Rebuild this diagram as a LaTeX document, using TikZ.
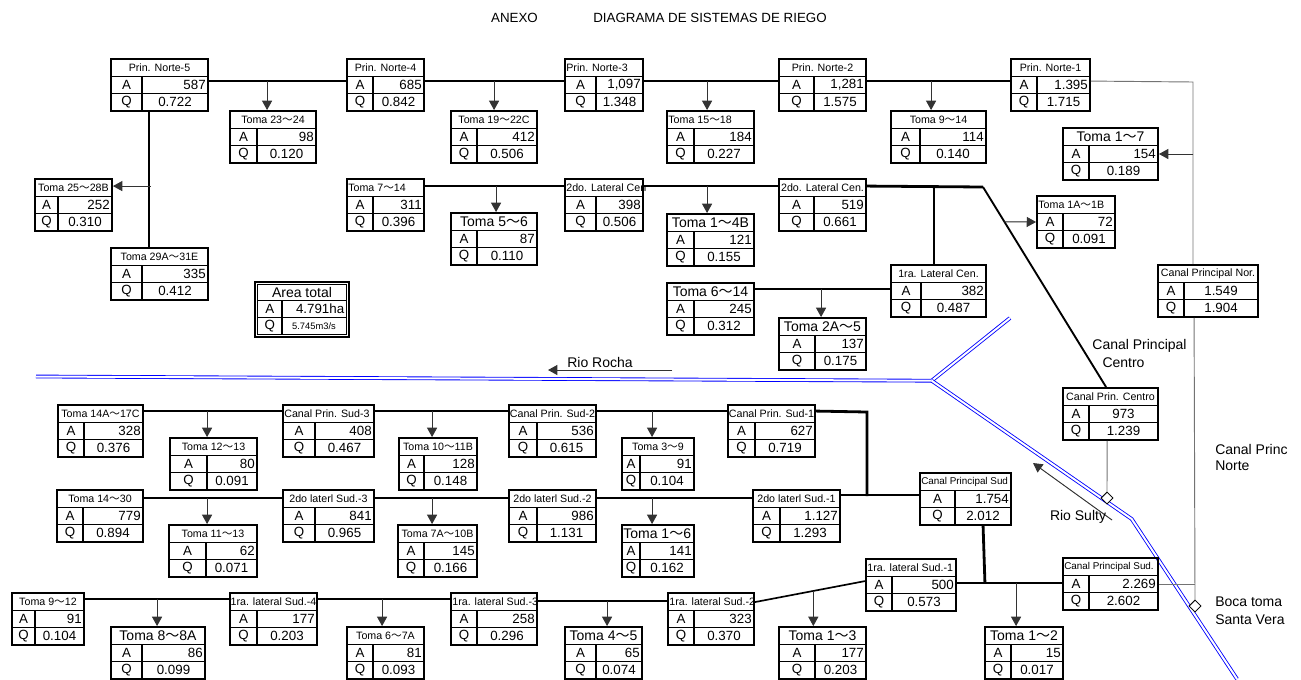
\documentclass[tikz,border=0pt]{standalone}
\usepackage{fontspec}
\setmainfont{Liberation Sans}
\newfontfamily\cjk{Noto Sans CJK JP}
\usetikzlibrary{fit,calc,arrows.meta,shapes.geometric}
\newcommand\wv{{\cjk ～}}
\newcommand\hsm{\fontsize{8}{9}\selectfont}
\newcommand\hxs{\fontsize{7.4}{8}\selectfont}
\newcommand\hbig{\fontsize{10.5}{12}\selectfont}
\newcommand\vfnt{\fontsize{10}{12}\selectfont}
\tikzset{
 box/.style={draw, line width=1.4pt, inner sep=0pt},
 gridln/.style={line width=1pt},
 hd/.style={inner xsep=0.8pt, inner ysep=0pt},
 lbl/.style={font=\vfnt, inner sep=0pt},
 val/.style={font=\vfnt, inner xsep=1.5pt, inner ysep=0pt},
 thk/.style={line width=2.1pt},
 med/.style={line width=1.25pt},
 arr/.style={line width=0.7pt, draw=black!80, fill=black, -{Triangle[length=7pt,width=7.5pt]}},
 gln/.style={line width=0.7pt, draw=black!55},
 river/.style={draw=blue, line width=0.65pt, double=white, double distance=1.5pt},
 dia/.style={diamond, draw, fill=white, line width=0.6pt, inner sep=0pt, minimum size=9pt},
 lab/.style={font=\fontsize{10.5}{12}\selectfont, inner sep=0pt},
}
\pgfkeys{/tb/.cd,
 L/.code={\def\thx{0}\def\tha{west}},
 big/.code={\def\thf{\hbig}},
 sm/.code={\def\thf{\hxs}},
 C/.code={\def\tax{0.5}\def\taa{center}}}
\newcommand\irbox[9][]{%
 \begingroup
 \def\thx{0.5}\def\tha{center}\def\thf{\hsm}\def\tax{1}\def\taa{east}%
 \pgfkeys{/tb/.cd,#1}%
 \node[box, fit={(#3,#4) (#3+#5,#4+52)}] (#2) {};
 \draw[gridln] (#3,#4+17.33) -- ++(#5,0) (#3,#4+34.67) -- ++(#5,0) (#3+#6,#4+17.33) -- (#3+#6,#4+52);
 \node[hd, anchor=\tha, font=\thf] at (#3+\thx*#5,#4+8.67) {#7};
 \node[lbl] at (#3+#6/2,#4+26) {A};
 \node[lbl] at (#3+#6/2,#4+43.33) {Q};
 \node[val, anchor=\taa] at (#3+#6+\tax*#5-\tax*#6,#4+26) {#8};
 \node[val] at (#3+#6/2+#5/2,#4+43.33) {#9};
 \endgroup}
\newcommand\darr[3]{\draw[arr] ($(#1.north west)+(#2,-#3)$) -- ($(#1.north west)+(#2,0)$);}
\begin{document}
\begin{tikzpicture}[x=0.75pt,y=-0.75pt]
\useasboundingbox (0,0) rectangle (1301,679);
\node[font=\vfnt] (ttl1) at (514.5,18) {ANEXO};
\node[font=\vfnt] (ttl2) at (710,18) {DIAGRAMA DE SISTEMAS DE RIEGO};

% rivers
\coordinate (rL) at (36,376.5);
\coordinate (rJ) at (931.7,380.7);
\coordinate (rU) at (1010,318);
\coordinate (rB) at (1131.7,519);
\coordinate (rE) at (1237,679);
\draw[river] (rL) -- (rJ) -- (rU);
\draw[river] (rJ) -- (rB) -- (rE);

% upper boxes
\irbox{pn5}{111}{59}{97}{31}{Prin. Norte-5}{587}{0.722}
\irbox{pn4}{347}{59}{77}{26}{Prin. Norte-4}{685}{0.842}
\irbox[L]{pn3}{565}{59}{78}{31}{Prin. Norte-3}{1,097}{1.348}
\irbox{pn2}{779}{59}{87}{35}{Prin. Norte-2}{1,281}{1.575}
\irbox{pn1}{1011}{59}{79}{26}{Prin. Norte-1}{1.395}{1.715}
\irbox{t2324}{230}{111}{86}{27}{Toma 23\wv24}{98}{0.120}
\irbox{t1922}{451}{111}{86}{26}{Toma 19\wv22C}{412}{0.506}
\irbox[L]{t1518}{667}{111}{87}{27}{Toma 15\wv18}{184}{0.227}
\irbox{t914}{891}{111}{95}{29}{Toma 9\wv14}{114}{0.140}
\irbox[big]{t17}{1063}{128}{95}{26}{Toma 1\wv7}{154}{0.189}
\irbox{t2528}{35}{179}{77}{23}{Toma 25\wv28B}{252}{0.310}
\irbox[L]{t714}{347}{179}{77}{26}{Toma 7\wv14}{311}{0.396}
\irbox[big]{t56}{451}{213}{86}{26}{Toma 5\wv6}{87}{0.110}
\irbox[L]{l2c1}{565}{179}{78}{31}{2do. Lateral Cen}{398}{0.506}
\irbox[big]{t14b}{667}{214}{87}{27}{Toma 1\wv4B}{121}{0.155}
\irbox{l2c2}{779}{179}{87}{35}{2do. Lateral Cen.}{519}{0.661}
\irbox[L]{t1a1b}{1037}{196}{78}{26}{Toma 1A\wv1B}{72}{0.091}
\irbox{t2931}{111}{248}{97}{31}{Toma 29A\wv31E}{335}{0.412}
\irbox[big]{t614}{667}{283}{87}{27}{Toma 6\wv14}{245}{0.312}
\irbox[big]{t2a5}{779}{318}{87}{36}{Toma 2A\wv5}{137}{0.175}
\irbox{l1c}{891}{265}{95}{30}{1ra. Lateral Cen.}{382}{0.487}
\irbox[C]{cpn}{1158}{265}{100}{26}{Canal Principal Nor.}{1.549}{1.904}
\irbox[C]{cpc}{1063}{388}{95}{26}{Canal Prin. Centro}{973}{1.239}

% area total
\node[box, fit={(255,282) (349,337)}] (area) {};
\draw[line width=0.5pt] (257.5,284.5) rectangle (346.5,334.5);
\draw[gridln] (257.5,300.5) -- (346.5,300.5) (257.5,317.5) -- (346.5,317.5) (282,300.5) -- (282,334.5);
\node[font=\hbig, inner sep=0pt] (areah) at (302,292.5) {Area total};
\node[lbl] (areaa) at (269.7,309) {A};
\node[lbl] (areaq) at (269.7,326) {Q};
\node[val,anchor=east] (areav) at (346.5,309) {4.791ha};
\node[font=\fontsize{7}{8}\selectfont, inner sep=0pt] (areaw) at (314,326) {5.745m3/s};

% lower boxes
\irbox{t1417}{58}{405}{85}{26}{Toma 14A\wv17C}{328}{0.376}
\irbox{t1213}{170}{438}{87}{37}{Toma 12\wv13}{80}{0.091}
\irbox[L]{cs3}{283}{405}{91}{32}{Canal Prin. Sud-3}{408}{0.467}
\irbox{t1011}{399}{438}{78}{25}{Toma 10\wv11B}{128}{0.148}
\irbox{cs2}{509}{405}{87}{28}{Canal Prin. Sud-2}{536}{0.615}
\irbox{t39}{622}{438}{72}{18}{Toma 3\wv9}{91}{0.104}
\irbox{cs1}{728}{405}{87}{27}{Canal Prin. Sud-1}{627}{0.719}
\irbox{t1430}{57}{490}{86}{26}{Toma 14\wv30}{779}{0.894}
\irbox{t1113}{169}{525}{88}{37}{Toma 11\wv13}{62}{0.071}
\irbox{s23}{283}{490}{91}{32}{2do laterl Sud.-3}{841}{0.965}
\irbox{t7a10}{398}{525}{79}{26}{Toma 7A\wv10B}{145}{0.166}
\irbox{s22}{509}{490}{87}{28}{2do laterl Sud.-2}{986}{1.131}
\irbox[big,L]{t16}{622}{525}{72}{18}{Toma 1\wv6}{141}{0.162}
\irbox{s21}{753}{490}{87}{27}{2do laterl Sud.-1}{1.127}{1.293}
\irbox[sm,L]{cps1}{920}{473}{91}{35}{Canal Principal Sud}{1.754}{2.012}
\irbox{t912}{12}{593}{72}{23}{Toma 9\wv12}{91}{0.104}
\irbox[big]{t88a}{111}{627}{94}{31}{Toma 8\wv8A}{86}{0.099}
\irbox{s14}{230}{593}{87}{27}{1ra. lateral Sud.-4}{177}{0.203}
\irbox{t67a}{347}{627}{77}{26}{Toma 6\wv7A}{81}{0.093}
\irbox[L]{s13}{451}{593}{86}{26}{1ra. lateral Sud.-3}{258}{0.296}
\irbox[big]{t45}{565}{627}{77}{31}{Toma 4\wv5}{65}{0.074}
\irbox[L]{s12}{668}{593}{86}{26}{1ra. lateral Sud.-2}{323}{0.370}
\irbox[big]{t13}{779}{627}{87}{36}{Toma 1\wv3}{177}{0.203}
\irbox[L]{s11}{866}{559}{90}{26}{1ra. lateral Sud.-1}{500}{0.573}
\irbox[big]{t12}{985}{627}{78}{26}{Toma 1\wv2}{15}{0.017}
\irbox[sm,L]{cps2}{1063}{558}{95}{26}{Canal Principal Sud.}{2.269}{2.602}

% top connectors
\draw[thk] ($(pn5.north east)+(0,23)$) -- ($(pn4.north west)+(0,23)$);
\draw[med] ($(pn4.north east)+(0,23)$) -- ($(pn3.north west)+(0,23)$);
\draw[med] ($(pn3.north east)+(0,23)$) -- ($(pn2.north west)+(0,23)$);
\draw[thk] ($(pn2.north east)+(0,23)$) -- ($(pn1.north west)+(0,23)$);
\darr{t2324}{38}{29}
\darr{t1922}{44}{29}
\darr{t1518}{41}{29}
\darr{t914}{41}{29}
\coordinate (cn1) at (1193,82);
\draw[gln] ($(pn1.north east)+(0,23)$) -- (cn1) -- (cn1 |- cpn.north);
\draw[arr] (cn1 |- t17.east) -- (t17.east);
\draw[thk] ($(pn5.south west)+(39,0)$) -- ($(t2931.north west)+(39,0)$);
\draw[arr] ($(t2528.north east)+(38,8)$) -- ($(t2528.north east)+(0,8)$);

% row 2
\draw[thk] ($(t714.north east)+(0,8)$) -- ($(l2c1.north west)+(0,8)$);
\darr{t56}{46}{26}
\draw[med] ($(l2c1.north east)+(0,8)$) -- ($(l2c2.north west)+(0,8)$);
\darr{t14b}{41}{27}
\coordinate (cj) at (983,187);
\coordinate (cpctop) at ($(cpc.north west)+(44,0)$);
\draw[thk] ($(l2c2.north east)+(0,8)$) -- (cj);
\draw[line width=1.4pt] (cj) -- (cpctop);
\draw[thk] ($(l1c.north west)+(44,-78)$) -- ($(l1c.north west)+(44,0)$);
\coordinate (cjd) at ($(cj)!0.174!(cpctop)$);
\draw[arr] (cjd) -- (t1a1b.west);

% row 3
\draw[med] ($(l1c.north west)+(0,25)$) -- ($(t614.north east)+(0,7)$);
\darr{t2a5}{43}{28}

% row 4
\draw[thk] ($(t1417.north east)+(0,7)$) -- ($(cs3.north west)+(0,7)$);
\darr{t1213}{38}{26}
\draw[thk] ($(cs3.north east)+(0,7)$) -- ($(cs2.north west)+(0,7)$);
\darr{t1011}{34}{26}
\draw[med] ($(cs2.north east)+(0,7)$) -- ($(cs1.north west)+(0,7)$);
\darr{t39}{31}{26}
\coordinate (cm) at (867,412);
\coordinate (cm2) at (867,496);
\draw[thk] ($(cs1.north east)+(0,7)$) -- (cm) -- (cm2);
\draw[thk] ($(s21.north east)+(0,6)$) -- ($(cps1.north west)+(0,23)$);

% row 5
\draw[med] ($(t1430.north east)+(0,9)$) -- ($(s23.north west)+(0,9)$);
\darr{t1113}{39}{26}
\draw[thk] ($(s23.north east)+(0,9)$) -- ($(s22.north west)+(0,9)$);
\darr{t7a10}{35}{26}
\draw[med] ($(s22.north east)+(0,9)$) -- ($(s21.north west)+(0,9)$);
\darr{t16}{31}{26}
\draw[thk] ($(cps1.south west)+(64,0)$) -- ($(s11.north east)+(28,25)$);
\draw[thk] ($(s11.north east)+(0,25)$) -- ($(cps2.north west)+(0,26)$);
\darr{t12}{32}{43}

% row 6
\draw[med] ($(t912.north east)+(0,7)$) -- ($(s14.north west)+(0,7)$);
\darr{t88a}{47}{27}
\draw[med] ($(s14.north east)+(0,7)$) -- ($(s13.north west)+(0,7)$);
\darr{t67a}{36}{27}
\draw[thk] ($(s13.north east)+(0,9)$) -- ($(s12.north west)+(0,9)$);
\darr{t45}{43}{25}
\coordinate (sa) at ($(s12.north east)+(0,10)$);
\coordinate (sb) at ($(s11.north west)+(0,23)$);
\draw[med] (sa) -- (sb);
\coordinate (dg) at ($(sa)!0.53!(sb)$);
\draw[arr] (dg) -- (dg |- t13.north);

% gray canals and intakes
\node[dia] (d1) at (1107,498) {};
\node[dia] (d2) at (1195,606) {};
\draw[gln] ($(cpc.south west)+(45,0)$) -- (d1.north);
\draw[gln] ($(cpn.south west)+(37,0)$) -- (d2.north);
\draw[gln] (cps2.east) -- (cps2.east -| d2);
\node[dia] at (d1) {};
\node[dia] at (d2) {};

% river labels
\coordinate (rr1) at (672,370);
\coordinate (rr2) at (548,370);
\draw[arr] (rr1) -- (rr2);
\node[lab] (rrl) at (600,362.5) {Rio Rocha};
\coordinate (rs1) at (1112,520);
\coordinate (rs2) at (1033,463);
\draw[arr] (rs1) -- (rs2);
\node[lab] (rsl) at (1078,517) {Rio Sulty};
\node[lab] (cpcl1) at (1139.5,346) {Canal Principal};
\node[lab] (cpcl2) at (1123.5,362.7) {Centro};
\node[lab, anchor=west] (cpnl1) at (1215,449) {Canal Princ};
\node[lab, anchor=west] (cpnl2) at (1215,466) {Norte};
\node[lab, anchor=west] (bt1) at (1215,602) {Boca toma};
\node[lab, anchor=west] (bt2) at (1215,620) {Santa Vera};
\end{tikzpicture}
\end{document}
